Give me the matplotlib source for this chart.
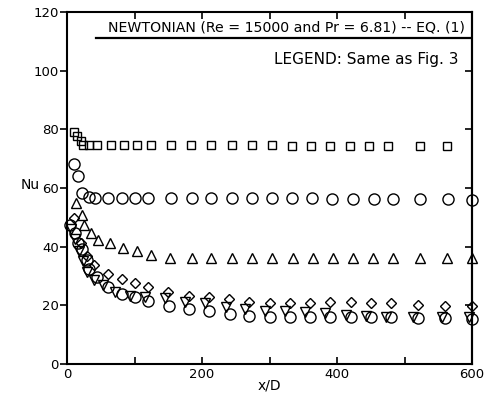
import numpy as np
import matplotlib
matplotlib.use('Agg')
import matplotlib.pyplot as plt

plt.rcParams['font.family'] = ['DejaVu Sans']

# squares (top series)
sq_x = [10, 15, 20, 24, 33, 44, 65, 84, 104, 124, 154, 184, 214, 244, 274, 304, 333, 362, 390, 419, 447, 475, 523, 563]
sq_y = [79, 77.6, 76.1, 74.8, 74.5, 74.7, 74.7, 74.6, 74.6, 74.6, 74.6, 74.5, 74.5, 74.5, 74.5, 74.5, 74.4, 74.4, 74.4, 74.4, 74.4, 74.4, 74.3, 74.3]

# upper circles
uc_x = [10, 16, 22, 33, 42, 61, 81, 100, 120, 154, 185, 214, 244, 274, 303, 333, 363, 392, 424, 454, 483, 523, 565, 600]
uc_y = [68, 64, 58.3, 56.9, 56.6, 56.6, 56.6, 56.6, 56.6, 56.6, 56.5, 56.5, 56.5, 56.5, 56.5, 56.5, 56.5, 56.4, 56.4, 56.4, 56.4, 56.4, 56.2, 56]

# triangles
tr_x = [13, 22, 25, 36, 46, 64, 83, 104, 124, 153, 185, 213, 244, 274, 303, 334, 364, 394, 424, 453, 483, 523, 563, 600]
tr_y = [55, 50.8, 47.4, 44.5, 42.3, 41.2, 39.5, 38.4, 37.0, 36.1, 36, 36, 36, 36, 36, 36, 36, 36, 36, 36, 36, 36, 36, 36]

# diamonds
di_x = [10, 21, 30, 40, 60, 81, 101, 120, 150, 180, 210, 240, 270, 300, 330, 360, 390, 420, 450, 480, 520, 560, 600]
di_y = [49.8, 41.3, 36.8, 33.6, 30.7, 28.9, 27.5, 26.2, 24.4, 23.3, 22.8, 22.3, 21.2, 20.9, 20.8, 20.8, 21.0, 21.0, 20.9, 20.9, 20.1, 19.8, 19.8]

# lower circles
lc_x = [5, 12, 17, 22, 29, 33, 44, 61, 81, 101, 120, 151, 181, 211, 241, 270, 300, 330, 360, 390, 420, 450, 480, 520, 560, 600]
lc_y = [47.4, 44.6, 41.4, 39.1, 35.5, 32.3, 29.8, 26.2, 23.8, 22.9, 21.5, 19.8, 18.6, 18.0, 17.2, 16.5, 16.1, 15.9, 15.9, 15.9, 15.9, 15.9, 15.9, 15.6, 15.6, 15.2]

# inverted triangles
it_x = [6, 12, 18, 24, 30, 40, 53, 71, 93, 116, 145, 175, 205, 235, 264, 293, 323, 353, 382, 413, 443, 473, 512, 555, 596]
it_y = [46, 42.5, 38.5, 35, 31.5, 28.5, 26.9, 24.6, 23.2, 23.0, 22.4, 21.2, 20.7, 19.3, 18.8, 18.2, 18.0, 17.8, 17.3, 16.7, 16.3, 16.1, 16.1, 16.1, 16.1]

fig = plt.figure(figsize=(4.91, 4.01), dpi=100)
ax = fig.add_axes([0.1365, 0.0923, 0.825, 0.878])

mk = dict(ls='none', mfc='none', mec='black', mew=1.0, clip_on=False)
ax.plot(sq_x, sq_y, marker='s', ms=5.5, **mk)
ax.plot(uc_x, uc_y, marker='o', ms=8, **mk)
ax.plot(tr_x, tr_y, marker='^', ms=7, **mk)
ax.plot(di_x, di_y, marker='D', ms=5.5, **mk)
ax.plot(it_x, it_y, marker='v', ms=7, **mk)
ax.plot(lc_x, lc_y, marker='o', ms=8, **mk)

ax.set_xlim(0, 600)
ax.set_ylim(0, 120)
ax.set_xticks([0, 200, 400, 600])
ax.set_xticks([100, 300, 500], minor=True)
ax.set_yticks(np.arange(0, 121, 20))
ax.tick_params(axis='x', which='both', direction='in', top=True, length=5, width=1.2, labelsize=9.5, pad=3)
ax.tick_params(axis='y', direction='out', length=5, width=1.2, labelsize=9.5, pad=1)
sec = ax.secondary_yaxis('right')
sec.set_yticks(np.arange(0, 121, 20))
sec.tick_params(direction='in', length=5, width=1.2, labelright=False)
sec.spines['right'].set_linewidth(1.5)
for s in ax.spines.values():
    s.set_linewidth(1.5)

ax.set_xlabel('x/D', fontsize=10)
ax.xaxis.set_label_coords(0.5, -0.06)
ax.xaxis.label.set_va('center')
ax.set_ylabel('Nu', fontsize=10, rotation=0)
ax.yaxis.set_label_coords(-0.092, 0.508)
ax.yaxis.label.set_va('center')

ax.axhline(111, xmin=0.072, xmax=1, color='black', lw=1.6)
ax.text(0.541, 0.955, 'NEWTONIAN (Re = 15000 and Pr = 6.81) -- EQ. (1)', transform=ax.transAxes,
        ha='center', va='center', fontsize=10.2)
ax.text(0.966, 0.865, 'LEGEND: Same as Fig. 3', transform=ax.transAxes,
        ha='right', va='center', fontsize=11)

fig.savefig('out.png', dpi=100)
